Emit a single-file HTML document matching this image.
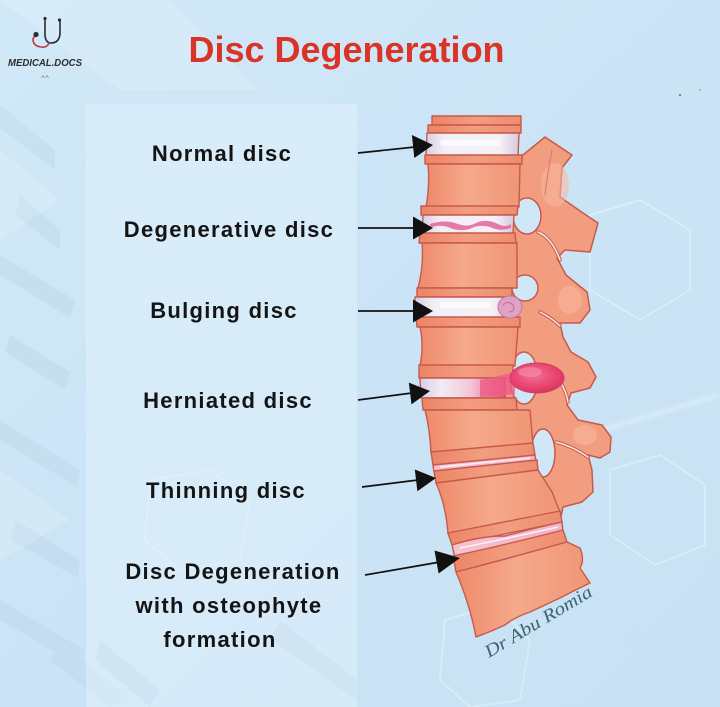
<!DOCTYPE html>
<html><head><meta charset="utf-8"><style>
html,body{margin:0;padding:0;}
body{width:720px;height:707px;overflow:hidden;background:#cde5f5;}
svg{display:block;}
.lbl{font-family:"Liberation Sans",sans-serif;font-weight:bold;font-size:22px;fill:#141414;letter-spacing:1.3px;}
</style></head><body>
<svg width="720" height="707" viewBox="0 0 720 707" xmlns="http://www.w3.org/2000/svg">
<defs>
<linearGradient id="bg" x1="0" y1="0" x2="1" y2="1">
<stop offset="0" stop-color="#d1e8f7"/><stop offset="0.5" stop-color="#cbe4f5"/><stop offset="1" stop-color="#c8e2f4"/>
</linearGradient>
<linearGradient id="bone" x1="0" y1="0" x2="1" y2="0">
<stop offset="0" stop-color="#ee8a6b"/><stop offset="0.45" stop-color="#f5a98b"/><stop offset="1" stop-color="#f09675"/>
</linearGradient>
<linearGradient id="rim" x1="0" y1="0" x2="1" y2="0">
<stop offset="0" stop-color="#eb8566"/><stop offset="0.5" stop-color="#f39d80"/><stop offset="1" stop-color="#ed8d6e"/>
</linearGradient>
<linearGradient id="disc" x1="0" y1="0" x2="1" y2="0">
<stop offset="0" stop-color="#d9cde4"/><stop offset="0.2" stop-color="#f3eff6"/><stop offset="0.8" stop-color="#f4f0f6"/><stop offset="1" stop-color="#d5c8e0"/>
</linearGradient>
<linearGradient id="disc4" x1="0" y1="0" x2="1" y2="0">
<stop offset="0" stop-color="#d9cde4"/><stop offset="0.25" stop-color="#f1ecf4"/><stop offset="0.6" stop-color="#f3c6d8"/><stop offset="1" stop-color="#ec4d79"/>
</linearGradient>
<radialGradient id="hern" cx="0.45" cy="0.4" r="0.6">
<stop offset="0" stop-color="#f36f94"/><stop offset="0.7" stop-color="#e8436f"/><stop offset="1" stop-color="#d8365f"/>
</radialGradient>
<linearGradient id="pinkd" x1="0" y1="0" x2="1" y2="0">
<stop offset="0" stop-color="#f6c2d2"/><stop offset="1" stop-color="#f4b2c7"/>
</linearGradient>
<filter id="blur"><feGaussianBlur stdDeviation="2"/></filter>
</defs>

<!-- background -->
<rect width="720" height="707" fill="url(#bg)"/>
<g opacity="0.04" fill="#2a5a80">
<polygon points="0,105 55,150 55,170 0,128"/>
<polygon points="20,195 60,230 60,250 15,215"/>
<polygon points="0,255 75,300 70,318 0,275"/>
<polygon points="10,335 70,372 65,390 5,352"/>
<polygon points="0,420 80,470 78,488 0,440"/>
<polygon points="15,520 80,560 78,578 10,540"/>
<polygon points="0,600 85,650 82,668 0,620"/>
<polygon points="60,640 130,700 110,707 50,660"/>
</g>
<g opacity="0.15" fill="#ffffff">
<polygon points="0,0 170,0 260,90 120,90"/>
<polygon points="0,150 60,200 0,240"/>
<polygon points="0,470 70,520 0,560"/>
</g>
<!-- faint hexagons -->
<g fill="none" stroke="#ffffff" stroke-opacity="0.3" stroke-width="2">
<polygon points="590,215 640,200 690,230 690,290 640,320 590,290"/>
<polygon points="610,470 660,455 705,485 705,545 655,565 610,535"/>
<polygon points="445,620 495,605 530,640 520,700 470,707 440,680"/>
<polygon points="150,480 210,470 250,500 240,560 180,570 145,540"/>
</g>
<line x1="585" y1="435" x2="720" y2="395" stroke="#ffffff" stroke-width="3" opacity="0.45" filter="url(#blur)"/>
<circle cx="680" cy="95" r="0.9" fill="#444"/>
<circle cx="700" cy="90" r="0.7" fill="#666"/>

<!-- panel -->
<rect x="86" y="104" width="271" height="603" fill="#e2f1fb" opacity="0.55"/>
<g opacity="0.04" fill="#2a5a80">
<polygon points="100,640 160,690 150,707 95,660"/>
<polygon points="280,620 357,680 357,700 270,640"/>
</g>

<!-- logo -->
<g fill="none" stroke-linecap="round">
<path d="M45,19 L45,36 Q46,43 51,43 Q59,43 60,34 L60,21" stroke="#2c2c2c" stroke-width="1.6"/>
<path d="M49,43 Q47,48 41,47 Q33,46 33,39 L35,35" stroke="#b83a4a" stroke-width="1.6"/>
</g>
<circle cx="45" cy="18.5" r="1.6" fill="#2c2c2c"/>
<circle cx="59.5" cy="20" r="1.6" fill="#2c2c2c"/>
<circle cx="36" cy="34.5" r="2.6" fill="#2c2c2c"/>
<text x="8" y="66" font-family="Liberation Sans, sans-serif" font-weight="bold" font-style="italic" font-size="10.5" fill="#2e2e2e" textLength="74" lengthAdjust="spacingAndGlyphs">MEDICAL.DOCS</text>
<text x="45" y="78" font-family="Liberation Sans, sans-serif" font-size="4.5" fill="#555" text-anchor="middle">A.A</text>

<!-- title -->
<text x="346.5" y="62" font-family="Liberation Sans, sans-serif" font-weight="bold" font-size="36" fill="#da3328" text-anchor="middle">Disc Degeneration</text>

<!-- labels -->
<text class="lbl" x="222" y="161" text-anchor="middle">Normal disc</text>
<text class="lbl" x="229" y="237" text-anchor="middle">Degenerative disc</text>
<text class="lbl" x="224" y="318" text-anchor="middle">Bulging disc</text>
<text class="lbl" x="228" y="408" text-anchor="middle">Herniated disc</text>
<text class="lbl" x="226" y="498" text-anchor="middle">Thinning disc</text>
<text class="lbl" x="233" y="579" text-anchor="middle">Disc Degeneration</text>
<text class="lbl" x="229" y="613" text-anchor="middle">with osteophyte</text>
<text class="lbl" x="220" y="647" text-anchor="middle">formation</text>

<!-- SPINE: posterior elements -->
<g stroke="#c65a4d" stroke-width="1.5" stroke-linejoin="round">
<path d="M505,160 L523,155 L545,137 L572,155 L562,168 L560,197 L583,213 L598,223 L590,252 L565,250 L557,258 L566,275 L587,292 L590,310 L580,323 L560,323 L563,337 L571,352 L588,362 L596,377 L590,388 L571,393 L567,405 L578,420 L602,425 L611,437 L610,452 L600,458 L588,455 L592,470 L593,492 L582,502 L563,507 L560,522 L540,525 L500,520 Z" fill="#f29d80"/>
</g>
<g fill="#f7b89f" opacity="0.55">
<ellipse cx="555" cy="185" rx="14" ry="22"/>
<ellipse cx="570" cy="300" rx="12" ry="14"/>
<ellipse cx="585" cy="435" rx="12" ry="10"/>
</g>
<!-- joint lines -->
<g fill="none" stroke-linecap="round">
<path d="M538,232 Q552,238 560,260" stroke="#c65a4d" stroke-width="3.5"/>
<path d="M538,232 Q552,238 560,260" stroke="#fbe9e3" stroke-width="1.5"/>
<path d="M540,312 Q552,318 560,326" stroke="#c65a4d" stroke-width="3.5"/>
<path d="M540,312 Q552,318 560,326" stroke="#fbe9e3" stroke-width="1.5"/>
<path d="M560,382 Q566,390 568,402" stroke="#c65a4d" stroke-width="3.5"/>
<path d="M560,382 Q566,390 568,402" stroke="#fbe9e3" stroke-width="1.5"/>
<path d="M556,442 Q572,446 588,457" stroke="#c65a4d" stroke-width="3.5"/>
<path d="M556,442 Q572,446 588,457" stroke="#fbe9e3" stroke-width="1.5"/>
<path d="M552,150 Q548,170 545,195" stroke="#d98068" stroke-width="1.2"/>
</g>
<!-- foramina -->
<g fill="#cfe7f7" stroke="#c65a4d" stroke-width="1.5">
<ellipse cx="527" cy="216" rx="14" ry="18"/>
<ellipse cx="525" cy="288" rx="13" ry="13"/>
<ellipse cx="524" cy="378" rx="14" ry="26"/>
<ellipse cx="543" cy="453" rx="12" ry="24"/>
</g>

<!-- vertebral bodies -->
<g stroke="#c65a4d" stroke-width="1.4" stroke-linejoin="round">
<path d="M432,116 L521,116 L521,125 L432,125 Z" fill="url(#rim)"/>
<path d="M428,125 L521,125 L521,133 L428,133 Z" fill="url(#rim)"/>
<path d="M427,133 L519,133 L518,156 L426,156 Z" fill="url(#disc)"/>
<path d="M425,155 L522,155 L522,164 L425,164 Z" fill="url(#rim)"/>
<path d="M428,164 L520,164 L519,207 L426,207 Q430,185 428,164 Z" fill="url(#bone)"/>
<path d="M421,206 L518,206 L517,215 L421,215 Z" fill="url(#rim)"/>
<path d="M423,215 L514,215 L513,234 L422,234 Z" fill="url(#disc)"/>
<path d="M420,233 L515,233 L516,243 L419,243 Z" fill="url(#rim)"/>
<path d="M422,243 L517,243 L517,288 L418,288 Q424,265 422,243 Z" fill="url(#bone)"/>
<path d="M417,288 L512,288 L512,297 L417,297 Z" fill="url(#rim)"/>
<path d="M415,297 L512,297 L512,318 L415,318 Z" fill="url(#disc)"/>
<path d="M416,317 L520,317 L520,327 L417,327 Z" fill="url(#rim)"/>
<path d="M420,327 L518,327 L515,366 L420,366 Q424,345 420,327 Z" fill="url(#bone)"/>
<path d="M419,365 L513,365 L513,378 L419,378 Z" fill="url(#rim)"/>
<path d="M420,378 L505,378 L505,398 L421,398 Z" fill="url(#disc4)"/>
<path d="M422,398 L516,398 L517,410 L423,410 Z" fill="url(#rim)"/>
<path d="M425,410 L530,410 L533,445 L431,453 Q430,430 425,410 Z" fill="url(#bone)"/>
<path d="M431,452 L533,443 L535,455 L433,465 Z" fill="url(#rim)"/>
<path d="M433,465 L535,455 L536,461 L434,472 Z" fill="url(#pinkd)"/>
<path d="M434,471 L537,460 L538,470 L436,483 Z" fill="url(#rim)"/>
<path d="M436,483 L538,470 L552,492 L560,512 L448,534 Q446,505 436,483 Z" fill="url(#bone)"/>
<path d="M448,533 L560,511 L562,522 L452,545 Z" fill="url(#rim)"/>
<path d="M452,545 Q480,536 505,536 Q535,528 562,522 L563,532 Q535,537 505,545 Q478,552 455,558 Z" fill="url(#pinkd)"/>
<path d="M453,556 Q505,545 563,530 L567,542 Q510,558 456,572 Z" fill="url(#rim)"/>
<path d="M456,572 Q510,558 567,542 L580,548 Q585,560 580,568 L590,583 Q575,590 560,598 Q545,605 530,612 Q515,617 505,625 Q490,632 476,637 Q470,605 456,572 Z" fill="url(#bone)"/>
</g>
<g fill="#ffffff" opacity="0.7">
<rect x="440" y="140" width="60" height="6" rx="3"/>
<rect x="440" y="302" width="50" height="6" rx="3"/>
</g>
<path d="M430,224 Q445,219 458,224 Q468,228 478,222 Q488,219 498,224 Q505,228 511,224 L511,228 Q500,232 490,227 Q478,224 470,229 Q458,232 448,227 Q438,224 430,228 Z" fill="#e2649a" opacity="0.85"/>
<ellipse cx="510" cy="307" rx="12" ry="11" fill="#dfa2c6" stroke="#c4789f" stroke-width="1"/>
<path d="M503,305 Q508,300 513,305 Q516,311 509,312" fill="none" stroke="#c06a98" stroke-width="1"/>
<path d="M480,380 Q500,376 515,372 L515,394 Q500,396 480,397 Z" fill="#ee5b86" opacity="0.8"/>
<ellipse cx="537" cy="378" rx="27" ry="15" fill="url(#hern)" stroke="#cc3d63" stroke-width="1"/>
<ellipse cx="530" cy="372" rx="12" ry="5" fill="#f78fae" opacity="0.6"/>
<path d="M440,467 L530,458" stroke="#ffffff" stroke-width="1.5" opacity="0.8"/>
<path d="M460,548 Q500,540 558,527" stroke="#ffffff" stroke-width="1.5" fill="none" opacity="0.8"/>

<!-- signature -->
<text x="0" y="0" transform="translate(489,658) rotate(-31)" font-family="Liberation Serif, serif" font-style="italic" font-size="18" fill="#3d6470" textLength="122" lengthAdjust="spacingAndGlyphs">Dr Abu Romia</text>

<!-- arrows -->
<g stroke="#111" stroke-width="1.7">
<line x1="358" y1="153" x2="415" y2="147"/>
<line x1="358" y1="228" x2="415" y2="228"/>
<line x1="358" y1="311" x2="415" y2="311"/>
<line x1="358" y1="400" x2="412" y2="393"/>
<line x1="362" y1="487" x2="418" y2="480"/>
<line x1="365" y1="575" x2="440" y2="562"/>
</g>
<g fill="#111">
<polygon points="433,145 414.3,158 411.9,135"/>
<polygon points="433,228 413,216.5 413,239.5"/>
<polygon points="433,311 413,299.5 413,322.5"/>
<polygon points="430,391 411.5,404.4 408.8,382.6"/>
<polygon points="436,478 417.4,491.3 414.8,469.5"/>
<polygon points="460,558 438.6,573.5 434.5,550.5"/>
</g>
</svg>
</body></html>
